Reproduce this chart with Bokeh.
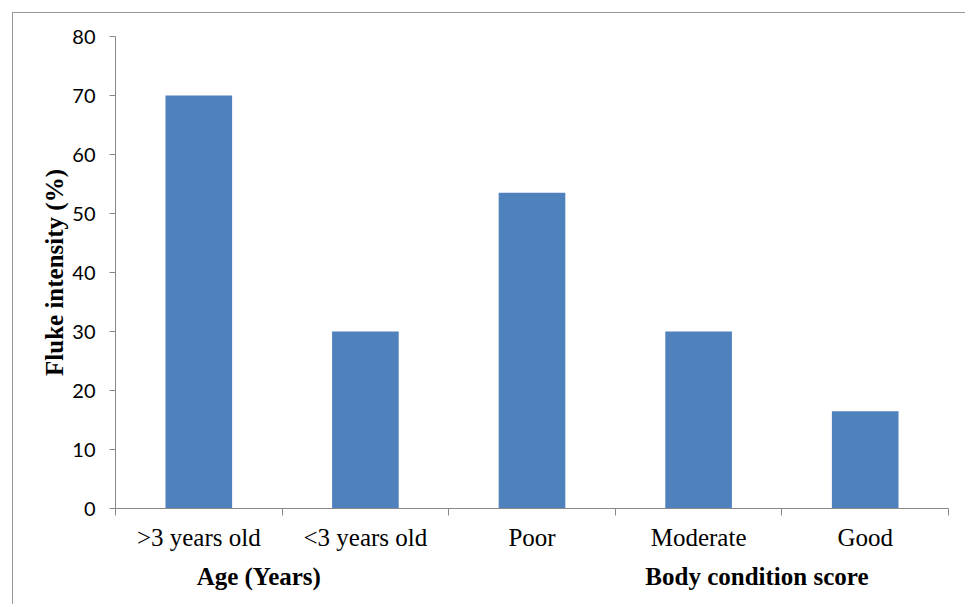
from bokeh.plotting import figure
from bokeh.models import Range1d, FixedTicker, LinearAxis, ColumnDataSource
from bokeh.embed import file_html
from bokeh.resources import INLINE

categories = [">3 years old", "<3 years old", "Poor", "Moderate", "Good"]
values = [70, 30, 53.5, 30, 16.5]
groups = ["Age (Years)", "Body condition score"]
group_centers = [0.86, 3.85]
y_ticks = [0, 10, 20, 30, 40, 50, 60, 70, 80]

xs = [i + 0.5 for i in range(len(categories))]
src = ColumnDataSource(dict(x=xs, top=values))

p = figure(width=953, height=592, output_backend="svg", toolbar_location=None,
           x_range=Range1d(0, len(categories)), y_range=Range1d(0, 80),
           min_border_left=102, min_border_right=18, min_border_top=23, min_border_bottom=97,
           styles={"margin-left": "12px", "margin-top": "12px",
                   "border-left": "1px solid #999999", "border-top": "1px solid #999999"})
p.outline_line_color = None
p.grid.visible = False

p.vbar(x="x", top="top", width=0.4, source=src, color="#4F81BD", line_color=None)

# x axis: labels at centres, ticks (minor) at category boundaries
xa = p.xaxis[0]
xa.ticker = FixedTicker(ticks=xs, minor_ticks=list(range(len(categories) + 1)))
xa.major_label_overrides = {x: c for x, c in zip(xs, categories)}
xa.major_tick_line_color = None
xa.minor_tick_out = 7
xa.minor_tick_in = 0
xa.minor_tick_line_color = "#888888"
xa.axis_line_color = "#888888"
xa.major_label_text_font = "Liberation Serif"
xa.major_label_text_font_size = "25px"
xa.major_label_text_color = "#000000"
xa.major_label_standoff = 8

# group labels
ga = LinearAxis(ticker=FixedTicker(ticks=group_centers))
ga.major_label_overrides = {x: g for x, g in zip(group_centers, groups)}
ga.axis_line_color = None
ga.major_tick_line_color = None
ga.minor_tick_line_color = None
ga.major_label_text_font = "Liberation Serif"
ga.major_label_text_font_style = "bold"
ga.major_label_text_font_size = "25px"
ga.major_label_text_color = "#000000"
ga.major_label_standoff = 3
p.add_layout(ga, "below")

ya = p.yaxis[0]
ya.ticker = FixedTicker(ticks=y_ticks)
ya.minor_tick_line_color = None
ya.major_tick_out = 6
ya.major_tick_in = 0
ya.major_tick_line_color = "#888888"
ya.axis_line_color = "#888888"
ya.major_label_text_font = "Lato"
ya.major_label_text_font_size = "20px"
ya.major_label_text_color = "#000000"
ya.major_label_standoff = 14
ya.axis_label = "Fluke intensity (%)"
ya.axis_label_text_font = "Liberation Serif"
ya.axis_label_text_font_style = "bold"
ya.axis_label_text_font_size = "25px"
ya.axis_label_text_color = "#000000"
ya.axis_label_standoff = 1

open("out.html", "w").write(file_html(p, INLINE))
